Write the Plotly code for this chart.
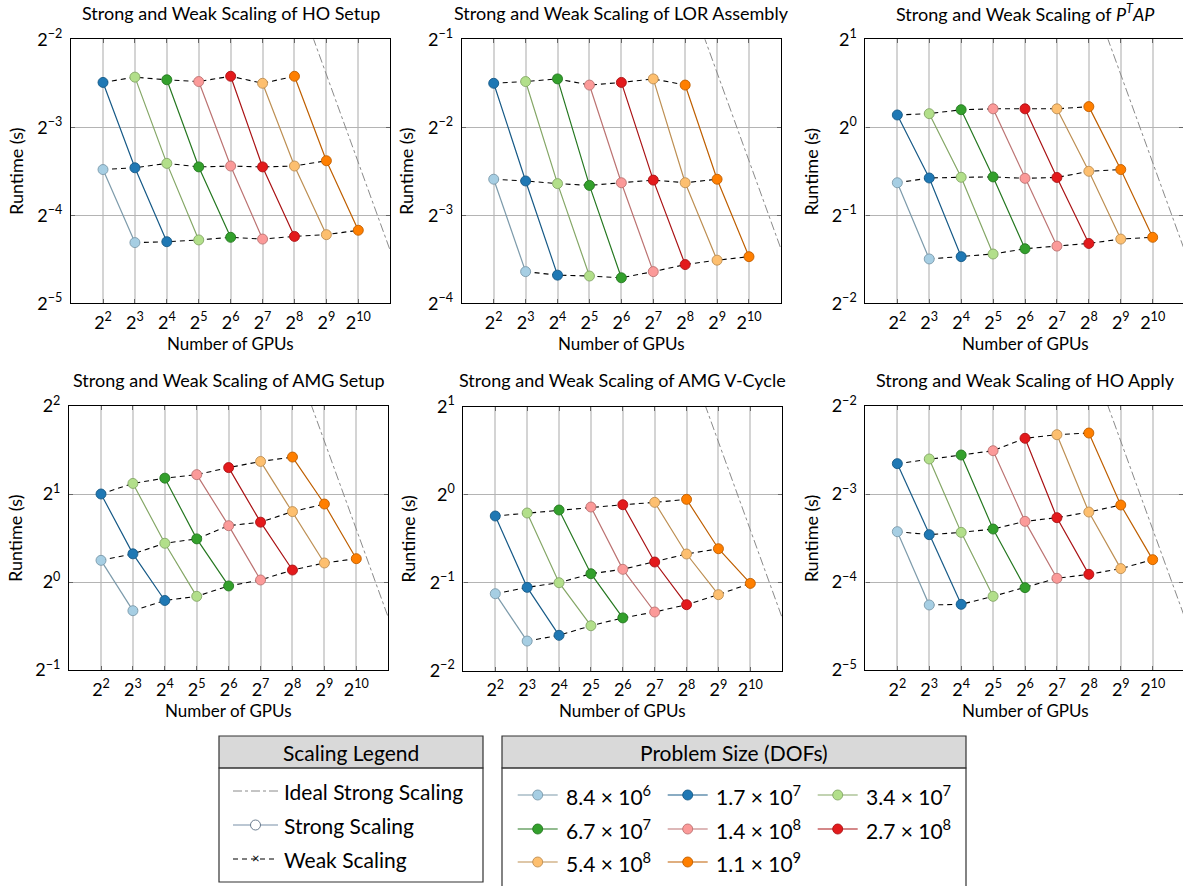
import plotly.graph_objects as go

W, H = 1183, 886
FONT = "Lato"
FS = 18
LFS = 21

# ---------------- data ----------------
gpu_exponents = [2, 3, 4, 5, 6, 7, 8, 9, 10]
problem_sizes = ["8.4 × 10<sup>6</sup>", "1.7 × 10<sup>7</sup>", "3.4 × 10<sup>7</sup>",
                 "6.7 × 10<sup>7</sup>", "1.4 × 10<sup>8</sup>", "2.7 × 10<sup>8</sup>",
                 "5.4 × 10<sup>8</sup>", "1.1 × 10<sup>9</sup>"]
fill_colors = ["#a6cee3", "#1f78b4", "#b2df8a", "#33a02c",
               "#fb9a99", "#e31a1c", "#fdbf6f", "#ff7f00"]

titles = ["Strong and Weak Scaling of HO Setup",
          "Strong and Weak Scaling of LOR Assembly",
          "Strong and Weak Scaling of <i>P<sup>T</sup>AP</i>",
          "Strong and Weak Scaling of AMG Setup",
          "Strong and Weak Scaling of AMG V-Cycle",
          "Strong and Weak Scaling of HO Apply"]
y_exp_ranges = [(-5, -2), (-4, -1), (-2, 1), (-1, 2), (-2, 1), (-5, -2)]

# log2(runtime in s)
# top: sizes 1..7 at 2^2..2^8 ; mid: sizes 0..7 at 2^2..2^9 ; bot: sizes 0..7 at 2^3..2^10
ho_setup_top = [-2.49, -2.43, -2.46, -2.48, -2.42, -2.50, -2.42]
ho_setup_mid = [-3.48, -3.46, -3.41, -3.45, -3.44, -3.45, -3.44, -3.38]
ho_setup_bot = [-4.31, -4.30, -4.28, -4.25, -4.27, -4.24, -4.22, -4.17]

lor_top = [-1.50, -1.48, -1.45, -1.52, -1.49, -1.45, -1.52]
lor_mid = [-2.59, -2.61, -2.64, -2.66, -2.63, -2.60, -2.63, -2.59]
lor_bot = [-3.64, -3.68, -3.69, -3.71, -3.64, -3.56, -3.51, -3.47]

ptap_top = [0.14, 0.155, 0.20, 0.21, 0.21, 0.21, 0.235]
ptap_mid = [-0.63, -0.576, -0.568, -0.564, -0.58, -0.57, -0.50, -0.48]
ptap_bot = [-1.496, -1.47, -1.44, -1.38, -1.35, -1.32, -1.27, -1.25]

amg_setup_top = [1.00, 1.12, 1.18, 1.22, 1.30, 1.37, 1.42]
amg_setup_mid = [0.246, 0.32, 0.44, 0.49, 0.64, 0.68, 0.80, 0.886]
amg_setup_bot = [-0.326, -0.21, -0.163, -0.045, 0.023, 0.136, 0.216, 0.265]

vcycle_top = [-0.242, -0.208, -0.174, -0.14, -0.114, -0.087, -0.053]
vcycle_mid = [-1.125, -1.053, -1.0, -0.898, -0.848, -0.765, -0.674, -0.614]
vcycle_bot = [-1.663, -1.598, -1.489, -1.40, -1.333, -1.25, -1.136, -1.008]

ho_apply_top = [-2.655, -2.602, -2.557, -2.508, -2.367, -2.326, -2.307]
ho_apply_mid = [-3.428, -3.462, -3.436, -3.398, -3.311, -3.269, -3.205, -3.125]
ho_apply_bot = [-4.261, -4.254, -4.163, -4.064, -3.958, -3.913, -3.848, -3.746]

# ideal strong scaling reference: runtime = 2^c / GPUs (log2 constant c)
ideal_log2_const = [6.6, 7.62, 9.6, 10.6, 9.6, 6.6]
ideal_gpu_exp = [8.0, 11.5]

panels = [
    (ho_setup_top, ho_setup_mid, ho_setup_bot),
    (lor_top, lor_mid, lor_bot),
    (ptap_top, ptap_mid, ptap_bot),
    (amg_setup_top, amg_setup_mid, amg_setup_bot),
    (vcycle_top, vcycle_mid, vcycle_bot),
    (ho_apply_top, ho_apply_mid, ho_apply_bot),
]

# ---------------- layout geometry (pixels) ----------------
boxes = [  # x0, x1, y0(top), y1(bottom)
    (71.1, 390.2, 39.3, 303.3),
    (461.8, 780.9, 39.3, 303.3),
    (865.4, 1183.0, 39.3, 303.3),
    (69.1, 388.2, 406.0, 670.0),
    (463.4, 782.2, 406.7, 670.7),
    (865.4, 1183.0, 406.0, 670.0),
]
x_exp_right = [11, 11, 10.95, 11, 11, 10.95]
ylabel_x = [16.7, 406.7, 811.3, 15.0, 408.0, 811.3]


def px(x):
    return x / W


def py(y):
    return 1 - y / H


def darker(hexc, f=0.75):
    r, g, b = int(hexc[1:3], 16), int(hexc[3:5], 16), int(hexc[5:7], 16)
    return "rgb(%d,%d,%d)" % (r * f, g * f, b * f)


line_colors = [darker(c) for c in fill_colors]

fig = go.Figure()
layout = dict(width=W, height=H, autosize=False,
              margin=dict(l=0, r=0, t=0, b=0, pad=0, autoexpand=False),
              plot_bgcolor="white", paper_bgcolor="white", showlegend=False,
              font=dict(family=FONT, size=FS, color="black"))
annotations = []
shapes = []

for k, (top, mid, bot) in enumerate(panels):
    n = k + 1
    xa = "x" if n == 1 else "x%d" % n
    ya = "y" if n == 1 else "y%d" % n
    x0, x1, y0, y1 = boxes[k]
    ylo, yhi = y_exp_ranges[k]
    xr = [1 * 0.30103, x_exp_right[k] * 0.30103]
    layout["xaxis" if n == 1 else "xaxis%d" % n] = dict(
        type="log", domain=[px(x0), px(x1)], anchor=ya, range=xr, automargin=False,
        tickvals=[2 ** e for e in gpu_exponents],
        ticktext=["2<sup>%d</sup>" % e for e in gpu_exponents],
        showgrid=True, gridcolor="#d4d4d4", gridwidth=1.6,
        showline=True, linecolor="black", linewidth=1.2, mirror="ticks",
        ticks="inside", ticklen=4, tickcolor="#666", tickwidth=1.2,
        tickfont=dict(size=FS), zeroline=False, ticklabelstandoff=3)
    layout["yaxis" if n == 1 else "yaxis%d" % n] = dict(
        type="log", domain=[py(y1), py(y0)], anchor=xa, automargin=False,
        range=[ylo * 0.30103, yhi * 0.30103],
        tickvals=[2 ** e for e in range(ylo, yhi + 1)],
        ticktext=["2<sup>%s</sup>" % (str(e).replace("-", "−")) for e in range(ylo, yhi + 1)],
        showgrid=True, gridcolor="#b4b4b4", gridwidth=1,
        showline=True, linecolor="black", linewidth=1.2, mirror="ticks",
        ticks="inside", ticklen=4, tickcolor="#666", tickwidth=1.2,
        tickfont=dict(size=FS), zeroline=False, ticklabelstandoff=4)

    # ideal strong scaling line
    c = ideal_log2_const[k]
    fig.add_trace(go.Scatter(
        x=[2 ** e for e in ideal_gpu_exp], y=[2 ** (c - e) for e in ideal_gpu_exp],
        mode="lines", line=dict(color="#8a8a8a", width=1, dash="dashdot"),
        xaxis=xa, yaxis=ya, hoverinfo="skip"))

    # weak scaling lines
    for vals, start in ((top, 2), (mid, 2), (bot, 3)):
        fig.add_trace(go.Scatter(
            x=[2 ** (start + j) for j in range(len(vals))], y=[2 ** v for v in vals],
            mode="lines", line=dict(color="black", width=1.1, dash="5px,4px"),
            xaxis=xa, yaxis=ya, hoverinfo="skip"))

    # strong scaling per problem size
    for i in range(8):
        xs, ys = [], []
        if i >= 1:
            xs.append(2 ** (i + 1)); ys.append(2 ** top[i - 1])
        xs.append(2 ** (i + 2)); ys.append(2 ** mid[i])
        xs.append(2 ** (i + 3)); ys.append(2 ** bot[i])
        fig.add_trace(go.Scatter(
            x=xs, y=ys, mode="lines+markers",
            line=dict(color=line_colors[i], width=1.2),
            marker=dict(symbol="circle", size=10, color=fill_colors[i],
                        line=dict(color=line_colors[i], width=0.9)),
            xaxis=xa, yaxis=ya, name=problem_sizes[i]))

    # titles
    cx = (x0 + x1) / 2 if k % 3 != 2 else (x0 + 1152.7 + 31.9) / 2
    annotations.append(dict(text=titles[k], x=px(cx), y=py(13 if k < 3 else 380),
                            xref="paper", yref="paper", showarrow=False,
                            font=dict(size=FS), xanchor="center", yanchor="middle"))
    annotations.append(dict(text="Number of GPUs", x=px(cx), y=py(343 if k < 3 else 710),
                            xref="paper", yref="paper", showarrow=False,
                            font=dict(size=FS - 1), xanchor="center", yanchor="middle"))
    annotations.append(dict(text="Runtime (s)", x=px(ylabel_x[k]), y=py((y0 + y1) / 2),
                            xref="paper", yref="paper", showarrow=False, textangle=-90,
                            font=dict(size=FS), xanchor="center", yanchor="middle"))

# ---------------- legend boxes ----------------
def rect(xa0, ya0, xa1, ya1, fill=None, lw=1.2):
    shapes.append(dict(type="rect", xref="paper", yref="paper",
                       x0=px(xa0), x1=px(xa1), y0=py(ya1), y1=py(ya0),
                       line=dict(color="#333", width=lw),
                       fillcolor=fill if fill else "rgba(0,0,0,0)", layer="above"))


def hline(xa0, xa1, yy, color, width=1.2, dash="solid"):
    shapes.append(dict(type="line", xref="paper", yref="paper",
                       x0=px(xa0), x1=px(xa1), y0=py(yy), y1=py(yy),
                       line=dict(color=color, width=width, dash=dash), layer="above"))


def circle(cx, cy, fill, edge, r=5):
    shapes.append(dict(type="circle", xref="paper", yref="paper",
                       xsizemode="pixel", ysizemode="pixel",
                       xanchor=px(cx), yanchor=py(cy),
                       x0=-r, x1=r, y0=-r, y1=r,
                       fillcolor=fill, line=dict(color=edge, width=0.9), layer="above"))


def text(t, x, y, anchor="left", size=LFS):
    annotations.append(dict(text=t, x=px(x), y=py(y), xref="paper", yref="paper",
                            showarrow=False, xanchor=anchor, yanchor="middle",
                            font=dict(size=size)))


# Scaling legend
rect(219, 736, 483, 768, fill="#d9d9d9")
rect(219, 768, 483, 882)
text("Scaling Legend", 351, 752, anchor="center")
hline(233, 278, 791, "#8a8a8a", width=1, dash="dashdot")
text("Ideal Strong Scaling", 282, 791)
hline(233, 278, 825, "#7890a8", width=1.2)
circle(255.5, 825, "white", "#5a6e82")
text("Strong Scaling", 282, 825)
hline(233, 278, 859, "black", width=1.1, dash="5px,4px")
text("×", 255.5, 858, anchor="center", size=13)
text("Weak Scaling", 282, 859)

# Problem size legend
rect(502, 736, 966, 768, fill="#d9d9d9")
rect(502, 768, 966, 890)
text("Problem Size (DOFs)", 734, 752, anchor="center")
col_x = [517.7, 667.7, 817.7]
row_y = [795, 829, 862]
for i in range(8):
    r, cidx = divmod(i, 3)
    lx = col_x[cidx]
    yy = row_y[r]
    hline(lx, lx + 40, yy, line_colors[i], width=1.2)
    circle(lx + 20, yy, fill_colors[i], line_colors[i])
    text(problem_sizes[i], lx + 46, yy)

layout["annotations"] = annotations
layout["shapes"] = shapes
fig.update_layout(**layout)
fig.write_html("out.html", config={"displayModeBar": False},
               post_script="document.body.style.margin='0px';document.body.style.overflow='hidden';")
